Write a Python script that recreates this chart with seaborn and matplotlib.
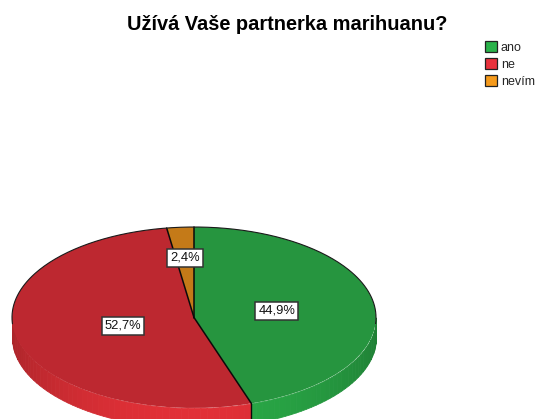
import numpy as np
import matplotlib
matplotlib.use("Agg")
import matplotlib.pyplot as plt
from matplotlib.patches import Patch
from matplotlib.colors import to_rgb
import seaborn as sns

title = "Užívá Vaše partnerka marihuanu?"
categories = ["ano", "ne", "nevím"]
values = [44.9, 52.7, 2.4]
value_labels = ["44,9%", "52,7%", "2,4%"]
top_colors = ["#26953F", "#BD2830", "#C47A18"]
side_colors = ["#29A846", "#E13037", "#DE8A1C"]
legend_colors = ["#2AB24A", "#E8323C", "#F59A1B"]
label_radius = [0.46, 0.40, 0.66]

sns.set_theme(style="white")
plt.rcParams["font.family"] = ["Liberation Sans", "DejaVu Sans"]

W, H = 535, 419
fig = plt.figure(figsize=(W / 100, H / 100), dpi=100, facecolor="white")
# ellipse of the top face: x 12..376, y 227..408 (pixels from top)
ax = fig.add_axes([12 / W, (H - 408) / H, 364 / W, 181 / H])

wedges, _ = ax.pie(values, colors=sns.color_palette(top_colors), startangle=90,
                   counterclock=False, radius=1,
                   wedgeprops=dict(linewidth=0, zorder=5))
ax.set_aspect("auto")
ax.set_xlim(-1, 1)
ax.set_ylim(-1, 1)
for w in wedges:
    w.set_clip_on(False)

fr = np.array(values) / sum(values)
edges = 90 - 360 * np.concatenate([[0], np.cumsum(fr)])

# extruded rim of the pie, shaded by angle
depth = 0.22
step = 2
b = edges[1] + 360
for a0 in np.arange(180, 360, step):
    a1 = a0 + step
    pieces = [(a0, a1, 0 if a0 >= b else 1)]
    if a0 < b < a1:
        pieces = [(a0, b, 1), (b, a1, 0)]
    for p0, p1, i in pieces:
        t = np.radians(np.linspace(p0, p1, 4))
        shade = 0.76 + 0.24 * min(1, abs(np.sin(np.radians((p0 + p1) / 2))) ** 1.5)
        col = tuple(c * shade for c in to_rgb(side_colors[i]))
        ax.fill_between(np.cos(t), np.sin(t) - depth, np.sin(t), facecolor=col,
                        edgecolor=col, linewidth=0.6, antialiased=False,
                        zorder=2, clip_on=False)

# slice boundaries and upper rim
for e in edges[:3]:
    r = np.radians(e)
    ax.plot([0, np.cos(r)], [0, np.sin(r)], color="#0A0A0A", lw=1.1, zorder=6,
            solid_capstyle="round", clip_on=False)
bt = np.radians(edges[1])
ax.plot([np.cos(bt)] * 2, [np.sin(bt), np.sin(bt) - depth], color="#0A0A0A",
        lw=1.0, zorder=4, clip_on=False)
arc = np.radians(np.linspace(-4, 184, 200))
ax.plot(np.cos(arc), np.sin(arc), color="#1A1A1A", lw=0.8, zorder=6, clip_on=False)

# value labels
for i, lab in enumerate(value_labels):
    mid = np.radians((edges[i] + edges[i + 1]) / 2)
    ax.text(label_radius[i] * np.cos(mid), label_radius[i] * np.sin(mid), lab,
            ha="center", va="center", fontsize=9.3, color="#111111", zorder=10,
            bbox=dict(boxstyle="square,pad=0.22", facecolor="white",
                      edgecolor="#333333", linewidth=1.1))

fig.text(287 / W, 1 - 24 / H, title, ha="center", va="center",
         fontsize=14.4, fontweight="bold", color="black")

handles = [Patch(facecolor=c, edgecolor="#222222", linewidth=0.9, label=n)
           for c, n in zip(legend_colors, categories)]
fig.legend(handles=handles, loc="upper left", bbox_to_anchor=(485 / W, 1 - 41 / H),
           bbox_transform=fig.transFigure, frameon=False, fontsize=9, borderpad=0,
           borderaxespad=0, handlelength=0.96, handleheight=1.0, handletextpad=0.3,
           labelspacing=0.32)

fig.savefig("out.png", dpi=100, facecolor="white")
